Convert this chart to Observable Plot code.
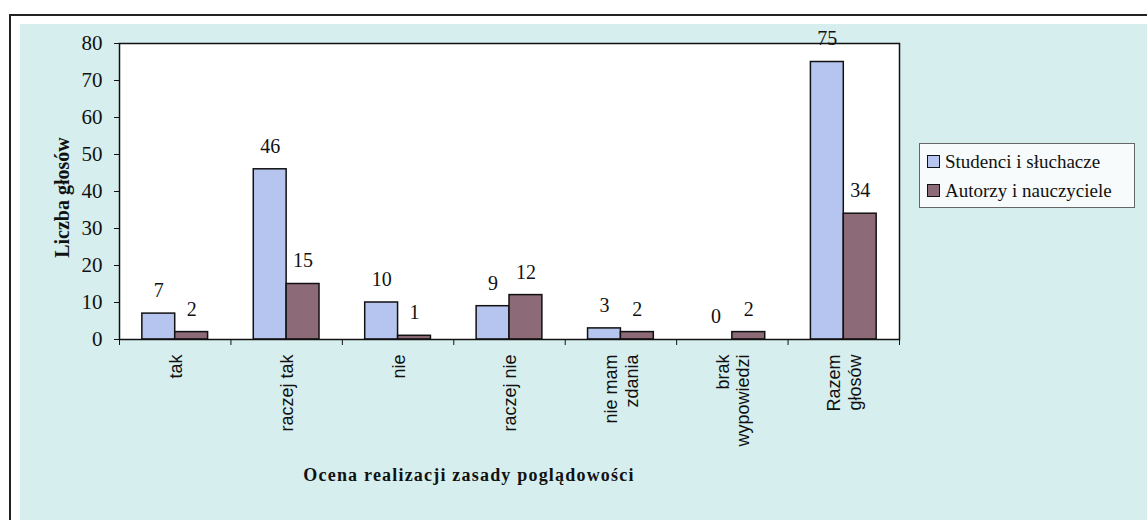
<!DOCTYPE html>
<html><head><meta charset="utf-8">
<script src="https://cdn.jsdelivr.net/npm/d3@7"></script>
<script src="https://cdn.jsdelivr.net/npm/@observablehq/plot@0.6"></script>
<style>
body{margin:0;background:#fff;width:1147px;height:520px;overflow:hidden;position:relative;font-family:"Liberation Serif","Times New Roman",serif;}
#frame{position:absolute;left:9px;top:14px;width:1160px;height:530px;border:2px solid #222;box-sizing:border-box;}
#bg{position:absolute;left:20px;top:24px;width:1140px;height:500px;background:#d6eeee;}
#chart{position:absolute;left:0;top:0;}
#legend{position:absolute;left:919px;top:143px;width:216px;height:65px;border:1px solid #666;background:#f7fbfb;box-sizing:border-box;padding:3px 0 0 7px;font-size:19px;color:#111;}
#legend .row{display:flex;align-items:center;height:29px;white-space:nowrap;}
#legend .sw{width:11px;height:11px;border:1.5px solid #111;margin-right:5px;flex:none;}
#xtitle{position:absolute;left:219px;width:500px;top:465px;text-align:center;font-weight:bold;font-size:18px;letter-spacing:1.2px;color:#111;}
</style></head>
<body>
<div id="frame"></div>
<div id="bg"></div>
<div id="chart"></div>
<div id="legend"></div>
<div id="xtitle"></div>
<script>
const categories = ["tak","raczej tak","nie","raczej nie","nie mam\nzdania","brak\nwypowiedzi","Razem\ngłosów"];
const studenci = [7,46,10,9,3,0,75];
const autorzy = [2,15,1,12,2,2,34];
const seriesNames = ["Studenci i słuchacze","Autorzy i nauczyciele"];
const seriesColors = ["#b6c4f0","#8d6a78"];
const yTicks = [0,10,20,30,40,50,60,70,80];
const xTitle = "Ocena realizacji zasady poglądowości";
const yTitle = "Liczba głosów";

const seriesValues = [studenci, autorzy];
const rows = [];
categories.forEach((c, i) => seriesValues.forEach((vals, s) => rows.push({i, cat: c, s, series: seriesNames[s], value: vals[i]})));

const start = 0.205, bw = 0.295;
const n = categories.length;

const chart = Plot.plot({
  width: 1147, height: 500,
  marginLeft: 119, marginRight: 248, marginTop: 43, marginBottom: 161,
  style: {background: "transparent", color: "#111", fontFamily: "Liberation Serif, serif"},
  x: {type: "linear", domain: [0, n], axis: null},
  y: {domain: [0, 80], axis: null},
  color: {domain: seriesNames, range: seriesColors},
  marks: [
    Plot.frame({fill: "white", stroke: "none"}),
    Plot.rectY(rows, {x1: d => d.i + start + d.s * bw, x2: d => d.i + start + (d.s + 1) * bw, y1: 0, y2: "value", fill: "series", stroke: "#111", strokeWidth: 1.5}),
    Plot.frame({stroke: "#111", strokeWidth: 1.5}),
    Plot.text(rows, {x: d => d.i + start + (d.s + 0.5) * bw, y: "value", text: d => String(d.value), dy: -23, fontSize: 20, fill: "#111"}),
    Plot.axisY(yTicks, {tickSize: 5, tickPadding: 12, fontSize: 21, label: null, stroke: "#111"}),
    Plot.axisX(d3.range(n + 1), {tickSize: 6, tickFormat: () => "", label: null}),
    Plot.axisX(d3.range(n).map(i => i + 0.5), {tickSize: 0, tickPadding: 15, tickRotate: -90, tickFormat: d => categories[Math.floor(d)], fontSize: 18, lineHeight: 1.15, fontFamily: "Liberation Sans, Arial, sans-serif", label: null}),
    Plot.text([yTitle], {frameAnchor: "left", textAnchor: "middle", rotate: -90, dx: -57, dy: 6, fontWeight: "bold", fontSize: 20, fill: "#111"})
  ]
});
document.getElementById("chart").appendChild(chart);

const legend = document.getElementById("legend");
seriesNames.forEach((name, k) => {
  const row = document.createElement("div");
  row.className = "row";
  const sw = document.createElement("span");
  sw.className = "sw";
  sw.style.background = seriesColors[k];
  row.appendChild(sw);
  row.appendChild(document.createTextNode(name));
  legend.appendChild(row);
});
document.getElementById("xtitle").textContent = xTitle;
</script>
</body></html>
